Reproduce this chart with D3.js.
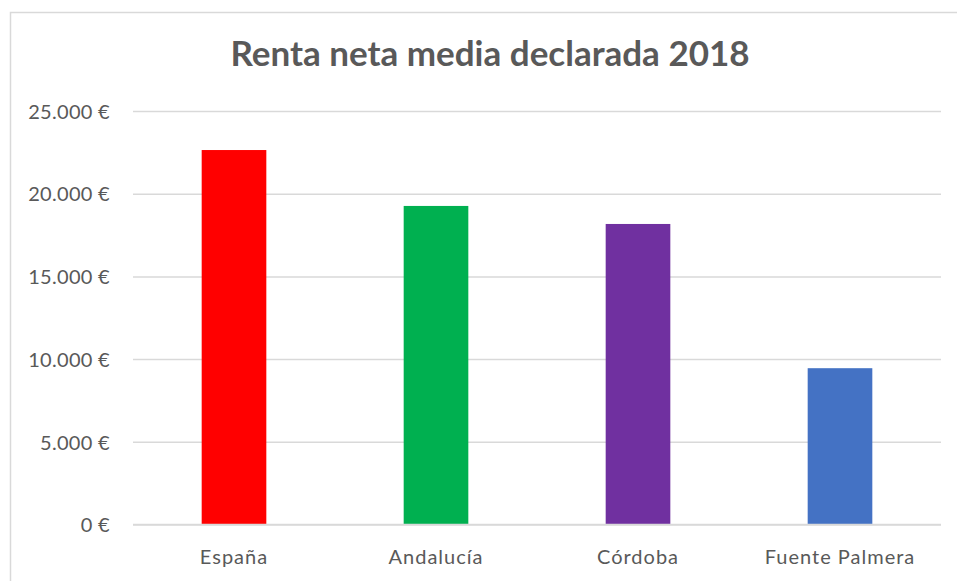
<!DOCTYPE html>
<html>
<head>
<meta charset="utf-8">
<script src="https://cdn.jsdelivr.net/npm/d3@7"></script>
<style>
  html, body { margin: 0; padding: 0; background: #ffffff; }
  svg { display: block; }
  text { font-family: Lato, "Open Sans", sans-serif; fill: #595959; }
</style>
</head>
<body>
<svg id="chart" width="957" height="581"></svg>
<script>
const title = "Renta neta media declarada 2018";
const categories = ["España", "Andalucía", "Córdoba", "Fuente Palmera"];
const values = [22640, 19260, 18170, 9450];
const colors = ["#ff0000", "#00b050", "#7030a0", "#4472c4"];
const yTicks = [0, 5000, 10000, 15000, 20000, 25000];

const svg = d3.select("#chart");
const W = 957, H = 581;
const margin = { left: 133, right: 16, top: 111, bottom: 56.5 };

svg.append("rect")
  .attr("x", 10.5).attr("y", 12.5)
  .attr("width", W + 20).attr("height", H + 20)
  .attr("fill", "#fff").attr("stroke", "#d9d9d9").attr("stroke-width", 1.5);

const x = d3.scaleBand()
  .domain(categories)
  .range([margin.left, W - margin.right])
  .paddingInner(0.68).paddingOuter(0.34);

const y = d3.scaleLinear()
  .domain([0, 25000])
  .range([H - margin.bottom, margin.top]);

const fmt = v => d3.format(",")(v).replace(/,/g, ".") + " €";

// gridlines
const yAxis = d3.axisLeft(y).tickValues(yTicks).tickSize(-(W - margin.right - margin.left)).tickFormat(fmt).tickPadding(23);
const gy = svg.append("g").attr("transform", `translate(${margin.left},0)`).call(yAxis);
gy.select(".domain").remove();
gy.selectAll(".tick line").attr("stroke", "#d9d9d9").attr("stroke-width", 1.5);
gy.selectAll(".tick text").attr("font-size", 20).attr("fill", "#595959").attr("dy", "0.36em")
  .style("font-family", "Lato, sans-serif").style("letter-spacing", "0.3px");

// bars
svg.append("g").selectAll("rect")
  .data(categories)
  .join("rect")
  .attr("x", d => x(d))
  .attr("width", x.bandwidth())
  .attr("y", (d, i) => y(values[i]))
  .attr("height", (d, i) => y(0) - y(values[i]))
  .attr("fill", (d, i) => colors[i]);

// baseline
svg.append("line")
  .attr("x1", margin.left).attr("x2", W - margin.right)
  .attr("y1", y(0)).attr("y2", y(0))
  .attr("stroke", "#d9d9d9").attr("stroke-width", 1.5);

// x axis labels
const xAxis = d3.axisBottom(x).tickSize(0).tickPadding(25);
const gx = svg.append("g").attr("transform", `translate(0,${y(0)})`).call(xAxis);
gx.select(".domain").remove();
gx.selectAll(".tick text").attr("font-size", 20).attr("fill", "#595959")
  .style("font-family", "Lato, sans-serif").style("letter-spacing", "1px");

// title
svg.append("text")
  .attr("x", 490).attr("y", 66)
  .attr("text-anchor", "middle")
  .attr("font-size", 35)
  .attr("font-weight", "bold")
  .attr("fill", "#595959")
  .text(title);
</script>
</body>
</html>
